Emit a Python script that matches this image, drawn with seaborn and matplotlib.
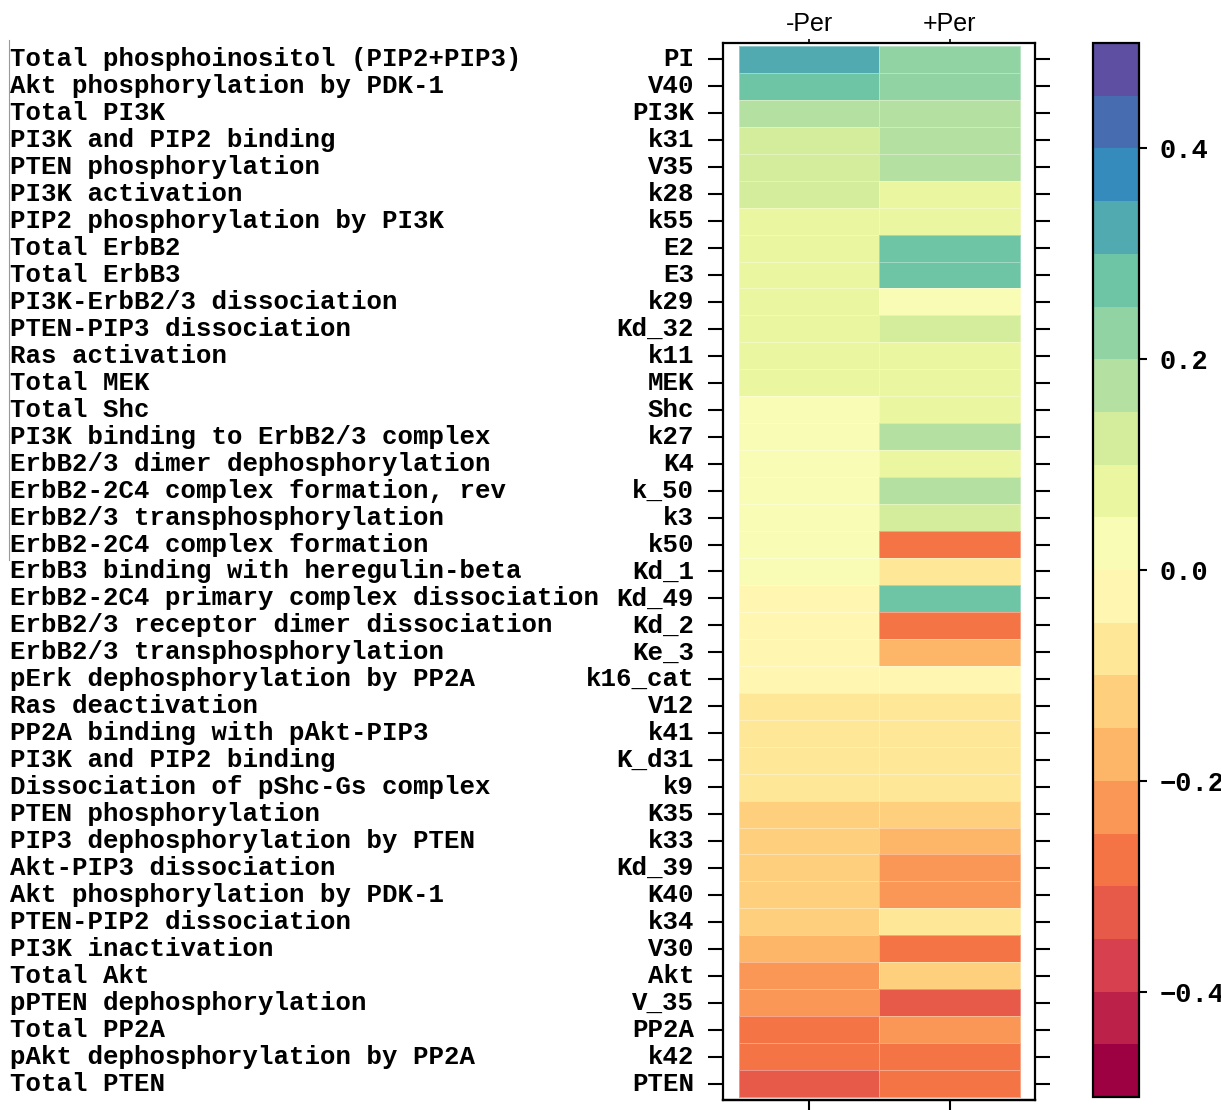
import pandas as pd
import matplotlib
matplotlib.use('Agg')
import matplotlib.pyplot as plt
import matplotlib.transforms as mtransforms
from matplotlib.lines import Line2D
import seaborn as sns

# row descriptions / parameter names (top to bottom)
descriptions = [
    'Total phosphoinositol (PIP2+PIP3)', 'Akt phosphorylation by PDK-1', 'Total PI3K',
    'PI3K and PIP2 binding', 'PTEN phosphorylation', 'PI3K activation',
    'PIP2 phosphorylation by PI3K', 'Total ErbB2', 'Total ErbB3',
    'PI3K-ErbB2/3 dissociation', 'PTEN-PIP3 dissociation', 'Ras activation',
    'Total MEK', 'Total Shc', 'PI3K binding to ErbB2/3 complex',
    'ErbB2/3 dimer dephosphorylation', 'ErbB2-2C4 complex formation, rev',
    'ErbB2/3 transphosphorylation', 'ErbB2-2C4 complex formation',
    'ErbB3 binding with heregulin-beta', 'ErbB2-2C4 primary complex dissociation',
    'ErbB2/3 receptor dimer dissociation', 'ErbB2/3 transphosphorylation',
    'pErk dephosphorylation by PP2A', 'Ras deactivation', 'PP2A binding with pAkt-PIP3',
    'PI3K and PIP2 binding', 'Dissociation of pShc-Gs complex', 'PTEN phosphorylation',
    'PIP3 dephosphorylation by PTEN', 'Akt-PIP3 dissociation', 'Akt phosphorylation by PDK-1',
    'PTEN-PIP2 dissociation', 'PI3K inactivation', 'Total Akt', 'pPTEN dephosphorylation',
    'Total PP2A', 'pAkt dephosphorylation by PP2A', 'Total PTEN',
]
params = [
    'PI', 'V40', 'PI3K', 'k31', 'V35', 'k28', 'k55', 'E2', 'E3', 'k29', 'Kd_32', 'k11',
    'MEK', 'Shc', 'k27', 'K4', 'k_50', 'k3', 'k50', 'Kd_1', 'Kd_49', 'Kd_2', 'Ke_3',
    'k16_cat', 'V12', 'k41', 'K_d31', 'k9', 'K35', 'k33', 'Kd_39', 'K40', 'k34', 'V30',
    'Akt', 'V_35', 'PP2A', 'k42', 'PTEN',
]
columns = ['-Per', '+Per']

minus_per = [0.32, 0.27, 0.17, 0.12, 0.12, 0.12, 0.07, 0.07, 0.07, 0.07, 0.07, 0.07, 0.07,
             0.02, 0.02, 0.02, 0.02, 0.02, 0.02, 0.02, -0.02, -0.02, -0.02, -0.02,
             -0.07, -0.07, -0.07, -0.07, -0.12, -0.12, -0.12, -0.12, -0.12, -0.17,
             -0.22, -0.22, -0.27, -0.27, -0.32]
plus_per = [0.22, 0.22, 0.17, 0.17, 0.17, 0.07, 0.07, 0.27, 0.27, 0.02, 0.12, 0.07, 0.07,
            0.07, 0.17, 0.07, 0.17, 0.12, -0.27, -0.07, 0.27, -0.27, -0.17, -0.02,
            -0.07, -0.07, -0.07, -0.07, -0.12, -0.17, -0.22, -0.22, -0.07, -0.27,
            -0.12, -0.32, -0.22, -0.27, -0.27]

cbar_ticks = [-0.4, -0.2, 0.0, 0.2, 0.4]
cbar_labels = ['\u22120.4', '\u22120.2', '0.0', '0.2', '0.4']

data = pd.DataFrame({'-Per': minus_per, '+Per': plus_per}, index=params)[columns]

mono = ['Liberation Mono', 'DejaVu Sans Mono']
cmap = plt.get_cmap('Spectral', 20)

fig = plt.figure(figsize=(12.21, 11.1), dpi=100)
ax = fig.add_axes([0.5921, 0.0090, 0.2555, 0.9523])
cax = fig.add_axes([0.8952, 0.0117, 0.0377, 0.9495])

sns.heatmap(data, ax=ax, cbar_ax=cax, cmap=cmap, vmin=-0.5, vmax=0.5,
            linewidths=0.5, linecolor=(1, 1, 1, 0.35),
            xticklabels=True, yticklabels=True)

ax.set_xlim(-0.114, 2.107)
ax.set_ylim(39.11, -0.11)
for sp in ax.spines.values():
    sp.set_visible(True)
    sp.set_linewidth(1.6)
    sp.set_color('black')

# column labels on top
ax.xaxis.tick_top()
ax.set_xticklabels(columns, rotation=0, fontfamily='Liberation Sans', fontsize=18)
ax.tick_params(axis='x', top=True, bottom=False, labeltop=True, labelbottom=False,
               length=3, width=1.2, pad=2)
ax.set_xlabel('')
ax.set_ylabel('')

# bottom ticks (no labels)
sec = ax.secondary_xaxis('bottom')
sec.set_xticks([0.5, 1.5])
sec.set_xticklabels([])
sec.tick_params(length=10, width=1.5)
sec.spines['bottom'].set_linewidth(1.6)

# parameter names as y tick labels, ticks on both sides
ax.set_yticklabels(params, rotation=0, fontfamily=mono, fontweight='bold', fontsize=18.5)
ax.tick_params(axis='y', left=True, right=True, labelleft=True, labelright=False,
               length=10.8, width=1.5, pad=10, direction='out')

# descriptions, left aligned at figure edge
trans = mtransforms.blended_transform_factory(fig.transFigure, ax.transData)
for i, d in enumerate(descriptions):
    ax.text(10 / 1221, i + 0.5, d, transform=trans, ha='left', va='center',
            fontfamily=mono, fontweight='bold', fontsize=18.5)

# colorbar
cbar = ax.collections[0].colorbar
cbar.set_ticks(cbar_ticks)
cbar.set_ticklabels(cbar_labels)
cbar.ax.tick_params(length=6, width=1.5, pad=9)
for lbl in cbar.ax.get_yticklabels():
    lbl.set_fontfamily(mono)
    lbl.set_fontweight('bold')
    lbl.set_fontsize(19.5)
cbar.outline.set_linewidth(1.6)
cbar.outline.set_edgecolor('black')

# thin grey edge line seen at the left of the original
fig.add_artist(Line2D([9 / 1221, 9 / 1221], [1 - 40 / 1110, 1 - 560 / 1110],
                      color='#9a9a9a', lw=0.8))

plt.savefig('out.png', dpi=100)
